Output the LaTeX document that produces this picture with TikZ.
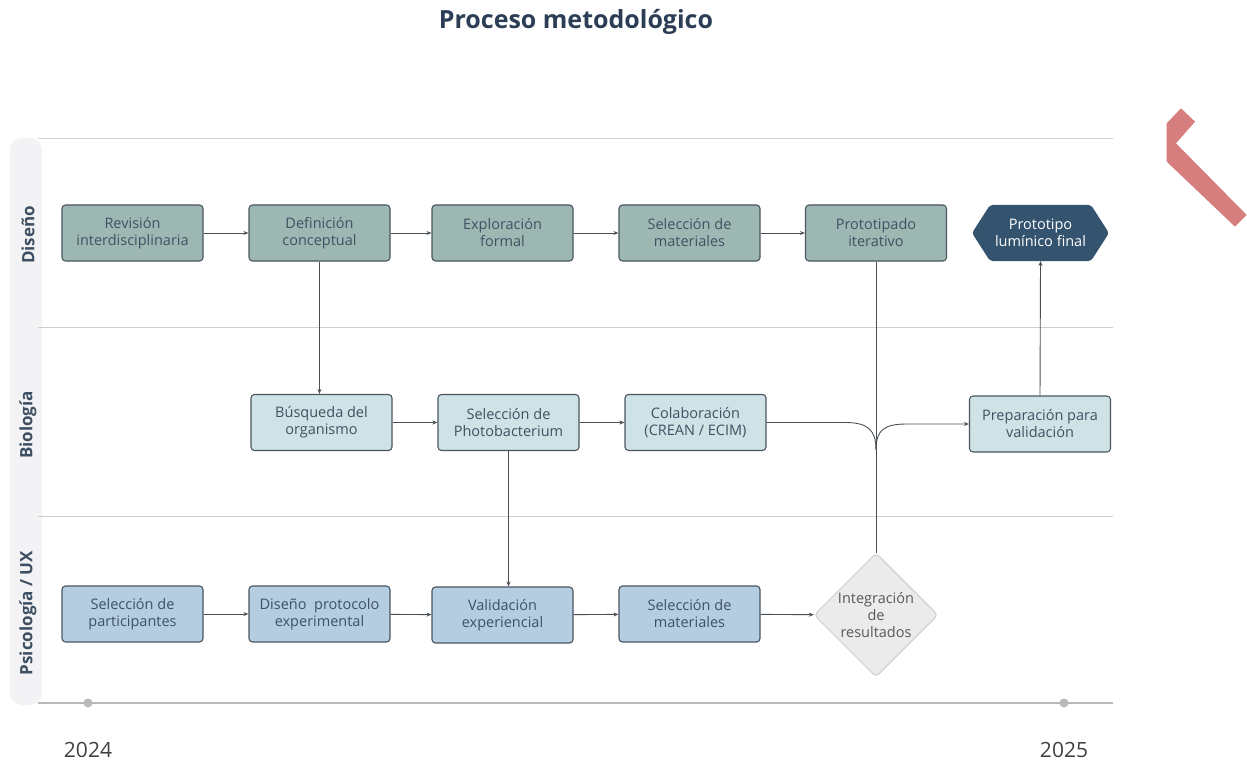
\documentclass[tikz,border=0pt]{standalone}
\usepackage{fontspec}
\setmainfont{Open Sans}
\usetikzlibrary{shapes.geometric,arrows.meta}
\definecolor{titlec}{HTML}{2C3E55}
\definecolor{lanec}{HTML}{3D4F62}
\definecolor{gridc}{HTML}{CFCFCF}
\definecolor{stripc}{HTML}{F3F3F5}
\definecolor{dfill}{HTML}{9DB8B3}
\definecolor{bfill}{HTML}{CFE2E6}
\definecolor{pfill}{HTML}{B5CDE0}
\definecolor{edgec}{HTML}{4A5560}
\definecolor{txtc}{HTML}{3E5263}
\definecolor{hexc}{HTML}{34536F}
\definecolor{diafill}{HTML}{EBEBEB}
\definecolor{diaedge}{HTML}{CDCDCD}
\definecolor{redc}{HTML}{D67E7E}
\definecolor{linec}{HTML}{4A4F55}
\begin{document}
\begin{tikzpicture}[x=1pt,y=-1pt,
  box/.style={rectangle, rounded corners=3.5pt, draw=edgec, line width=1.1pt,
    minimum width=141pt, minimum height=56pt, inner sep=0pt, align=center,
    text=txtc, font=\fontsize{14.5}{17}\selectfont},
  dbox/.style={box, fill=dfill},
  bbox/.style={box, fill=bfill},
  pbox/.style={box, fill=pfill},
  flow/.style={draw=linec, line width=0.9pt, -{Stealth[length=5pt,width=4pt]}},
  plain/.style={draw=linec, line width=0.9pt},
  lanelbl/.style={rotate=90, text=lanec, font=\fontsize{17}{19}\selectfont\bfseries},
  yearlbl/.style={text=black!75, font=\fontsize{21}{23}\selectfont}
]
\useasboundingbox (0,0) rectangle (1247,762);

% title
\node[text=titlec, font=\fontsize{25}{28}\selectfont\bfseries] (title) at (576,22) {Proceso metodológico};

% lane strip and grid lines
\fill[stripc, rounded corners=12pt] (10,138) rectangle (42,705);
\draw[gridc, line width=0.9pt] (38,138) -- (1113,138);
\draw[gridc, line width=0.9pt] (38,327) -- (1113,327);
\draw[gridc, line width=0.9pt] (38,516) -- (1113,516);

\node[lanelbl] (l1) at (28,235) {Diseño};
\node[lanelbl] (l2) at (28,425) {Biología};
\node[lanelbl] (l3) at (28,613) {Psicología / UX};

% timeline
\draw[gridc!90!black, line width=2pt] (38,703) -- (1113,703);
\fill[gray!55] (88,703) circle (4.5);
\fill[gray!55] (1064,703) circle (4.5);
\node[yearlbl] (y1) at (88,750) {2024};
\node[yearlbl] (y2) at (1064,750) {2025};

% red mark
\fill[redc] (1181,108.3) -- (1195,121.7) -- (1176,143.3) -- (1246.7,215)
  -- (1235,226.7) -- (1166.7,161.7) -- (1166.7,123.3) -- cycle;

% row 1
\node[dbox] (rev) at (132.5,233) {Revisión\\interdisciplinaria};
\node[dbox] (def) at (319.5,233) {Definición\\conceptual};
\node[dbox] (exp) at (502.5,233) {Exploración\\formal};
\node[dbox] (sel1) at (689.5,233) {Selección de\\materiales};
\node[dbox] (pro) at (876,233) {Prototipado\\iterativo};
\fill[hexc, rounded corners=3pt] (972,233) -- (990,205) -- (1091,205) -- (1109,233) -- (1091,261) -- (990,261) -- cycle;
\node[text=white, align=center, font=\fontsize{14.5}{17}\selectfont] (fin) at (1040.5,233) {Prototipo\\lumínico final};
\coordinate (finb) at (1040.5,261);

% row 2
\node[bbox] (bus) at (321.5,422.5) {Búsqueda del\\organismo};
\node[bbox] (pho) at (508.5,422.5) {Selección de\\Photobacterium};
\node[bbox] (col) at (695.5,422.5) {Colaboración\\(CREAN / ECIM)};
\node[bbox] (prep) at (1040,424) {Preparación para\\validación};

% row 3
\node[pbox] (par) at (132.5,614) {Selección de\\participantes};
\node[pbox] (dis) at (319.5,614) {Diseño~~protocolo\\experimental};
\node[pbox] (val) at (502.5,615) {Validación\\experiencial};
\node[pbox] (sel3) at (689.5,614) {Selección de\\materiales};
\node[diamond, aspect=1, minimum width=124pt, minimum height=124pt, inner sep=0pt,
  fill=diafill, draw=diaedge, line width=1pt, rounded corners=4pt, align=center,
  text=black!65, font=\fontsize{14.5}{17}\selectfont] (int) at (876,615) {Integración\\de\\resultados};

% connectors row 1
\draw[flow] (rev) -- (def);
\draw[flow] (def) -- (exp);
\draw[flow] (exp) -- (sel1);
\draw[flow] (sel1) -- (pro);
% row 2
\draw[flow] (def.south) -- (bus.north -| def.south);
\draw[flow] (bus) -- (pho);
\draw[flow] (pho) -- (col);
\draw[flow] (pho.south) -- (val.north -| pho.south);
% row 3
\draw[flow] (par) -- (dis);
\draw[flow] (dis) -- (val);
\draw[flow] (val) -- (sel3);
\draw[flow] (sel3) -- (int);
% vertical and merging lines
\draw[plain] (pro.south) -- (int.north);
\coordinate (jn) at (876,450);
\draw[plain] (col.east) -- (845,422.5) .. controls (868,422.5) and (876,430) .. (jn);
\draw[flow] (jn) .. controls (876,430) and (884,424) .. (907,424) -- (prep.west);
\draw[flow] (prep.north) -- (finb);
\end{tikzpicture}
\end{document}
